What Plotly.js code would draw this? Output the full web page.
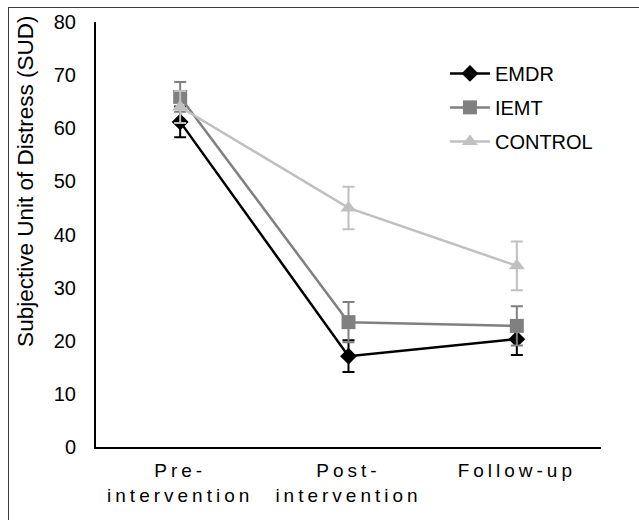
<!DOCTYPE html>
<html>
<head>
<meta charset="utf-8">
<script src="https://cdn.plot.ly/plotly-3.0.1.min.js"></script>
<style>
  html, body { margin: 0; padding: 0; background: #fff; overflow: hidden; }
  #chart { width: 639px; height: 520px; position: absolute; left: 0; top: 0; }
  #frame { position: absolute; left: 8px; top: 7px; width: 700px; height: 600px;
           border: 1px solid #3a3a3a; pointer-events: none; }
</style>
</head>
<body>
<div id="chart"></div>
<div id="frame"></div>
<script>
// ---- data ----
const categories = ["Pre-<br>intervention", "Post-<br>intervention", "Follow-up"];
const seriesNames = ["EMDR", "IEMT", "CONTROL"];
const emdrValues = [61.2, 17.1, 20.3];
const emdrErrors = [2.9, 3.0, 3.0];
const iemtValues = [65.9, 23.5, 22.8];
const iemtErrors = [2.8, 3.8, 3.7];
const controlValues = [64.0, 45.0, 34.1];
const controlErrors = [3.0, 4.0, 4.6];
const yTickValues = [0, 10, 20, 30, 40, 50, 60, 70, 80];

const xIdx = categories.map((_, i) => i);
const font = "Liberation Sans, Arial, sans-serif";

function mk(name, y, err, color, symbol, size, width) {
  return {
    type: "scatter", mode: "lines+markers", name: name, legendgroup: name,
    x: xIdx, y: y,
    line: { color: color, width: width },
    marker: { color: color, symbol: symbol, size: size },
    error_y: { type: "data", array: err, visible: true, color: color, thickness: 2, width: 6 },
    hoverinfo: "skip"
  };
}

const data = [
  mk(seriesNames[0], emdrValues, emdrErrors, "#000000", "diamond", 13, 2.5),
  mk(seriesNames[1], iemtValues, iemtErrors, "#808080", "square", 14, 2.5),
  mk(seriesNames[2], controlValues, controlErrors, "#c0c0c0", "triangle-up", 14, 2.5)
];

const layout = {
  width: 639, height: 520,
  margin: { l: 96, r: 38, t: 22, b: 73 },
  paper_bgcolor: "#ffffff", plot_bgcolor: "#ffffff",
  font: { family: font, size: 20, color: "#000000" },
  showlegend: true,
  legend: {
    x: 0.691, y: 0.925, xanchor: "left", yanchor: "top",
    bgcolor: "rgba(0,0,0,0)", font: { family: font, size: 20, color: "#000" },
    tracegroupgap: 5, itemwidth: 40
  },
  xaxis: {
    range: [-0.5, 2.5], tickvals: xIdx, ticktext: categories,
    showgrid: false, zeroline: false, showline: true, linecolor: "#000", linewidth: 2,
    ticks: "", ticklabelstandoff: 5,
    tickfont: { family: font, size: 19, color: "#000" }, fixedrange: true
  },
  yaxis: {
    range: [0, 80], tickvals: yTickValues,
    showgrid: false, zeroline: false, showline: true, linecolor: "#000", linewidth: 2,
    ticks: "", ticklabelstandoff: 14,
    tickfont: { family: font, size: 20, color: "#000" }, fixedrange: true
  },
  annotations: [{
    text: "Subjective Unit of Distress (SUD)",
    xref: "paper", yref: "paper", x: -0.1396, y: 0.625,
    xanchor: "center", yanchor: "middle", textangle: -90, showarrow: false,
    font: { family: font, size: 22.5, color: "#000" }
  }]
};

Plotly.newPlot("chart", data, layout, { displayModeBar: false, staticPlot: true }).then(gd => {
  gd.querySelectorAll(".xtick text").forEach(t => { t.style.letterSpacing = "4px"; });
});
</script>
</body>
</html>
